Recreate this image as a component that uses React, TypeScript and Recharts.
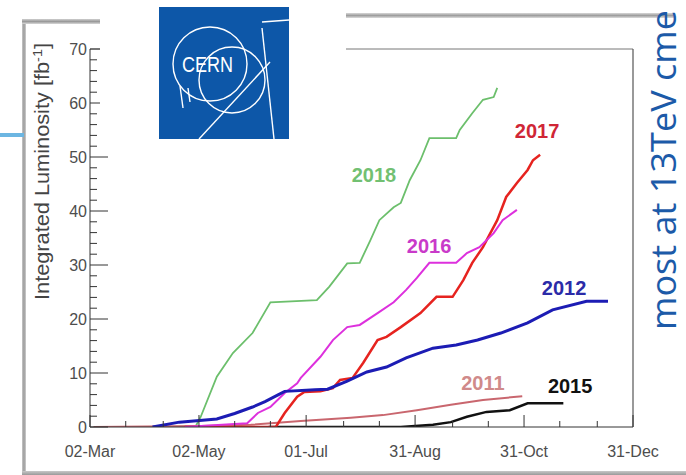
import React from 'react';
import { LineChart, Line, XAxis, YAxis, ReferenceDot } from 'recharts';

// x = days since 02-Mar, y = integrated luminosity [fb^-1]
const tickDays = [0, 61, 121, 182, 243, 304];
const tickLabels = ['02-Mar', '02-May', '01-Jul', '31-Aug', '31-Oct', '31-Dec'];
const minorDays = [20, 41, 81, 101, 142, 162, 203, 223, 263, 284];
const yTicks = [0, 2, 4, 6, 8, 10, 12, 14, 16, 18, 20, 22, 24, 26, 28, 30, 32, 34, 36, 38, 40, 42, 44, 46, 48, 50, 52, 54, 56, 58, 60, 62, 64, 66, 68, 70];

const days2011 = [2, 62, 90, 118, 146, 164, 183, 202, 220, 242];
const lumi2011 = [0, 0.2, 0.4, 1.1, 1.7, 2.2, 3.1, 4.1, 5.0, 5.7];

const days2012 = [35, 50, 71, 81, 91, 98, 105, 109, 126, 133, 144, 155, 166, 177, 192, 205, 217, 230, 245, 259, 278, 290];
const lumi2012 = [0, 0.9, 1.5, 2.5, 3.7, 4.7, 5.9, 6.6, 6.9, 7.0, 8.5, 10.2, 11.1, 12.8, 14.6, 15.2, 16.1, 17.4, 19.3, 21.7, 23.3, 23.3];

const days2015 = [100, 174, 192, 202, 211, 222, 235, 245, 265];
const lumi2015 = [0, 0, 0.4, 0.9, 1.9, 2.8, 3.1, 4.4, 4.4];

const days2016 = [53, 88, 94, 101, 105, 109, 116, 118, 129, 136, 144, 151, 161, 170, 177, 183, 190, 205, 211, 218, 226, 231, 239];
const lumi2016 = [0, 0.7, 2.6, 3.7, 5.0, 6.3, 8.1, 9.1, 13.0, 16.1, 18.5, 18.9, 21.1, 23.1, 25.4, 27.6, 30.4, 30.4, 32.2, 33.3, 35.9, 38.3, 40.2];

const days2017 = [53, 104, 109, 116, 120, 129, 136, 140, 147, 153, 161, 166, 174, 185, 194, 203, 209, 214, 220, 228, 233, 239, 245, 248, 252];
const lumi2017 = [0, 0, 2.6, 5.6, 6.5, 6.6, 7.2, 8.7, 9.1, 11.9, 16.1, 16.7, 18.5, 21.1, 24.1, 24.1, 27.2, 30.4, 33.3, 38.3, 42.6, 45.2, 47.6, 49.4, 50.4];

const days2018 = [52, 59, 62, 71, 80, 91, 101, 127, 134, 144, 151, 157, 162, 170, 174, 179, 185, 190, 205, 207, 214, 220, 226, 228];
const lumi2018 = [0, 0, 1.9, 9.3, 13.7, 17.4, 23.1, 23.5, 26.0, 30.3, 30.4, 34.6, 38.3, 40.7, 41.5, 45.7, 49.4, 53.5, 53.5, 55.0, 58.1, 60.6, 61.1, 62.8];

const yearNames = ['2011', '2012', '2015', '2016', '2017', '2018'];
const yearColors = ['#c9666e', '#1c1cb4', '#111111', '#dd30dd', '#e6231f', '#6cbf6c'];
const labelColors = ['#d08a8a', '#2b2ba8', '#111111', '#c93ac9', '#d02636', '#72c072'];
const labelDays = [220, 265.4, 268.8, 189.8, 250.3, 159];
const labelLumi = [8.2, 25.8, 7.7, 33.6, 54.9, 46.7];

const toPoints = (days: number[], lumi: number[]) => days.map((d, i) => ({ d, v: lumi[i] }));

const series = [
  { name: '2018', data: toPoints(days2018, lumi2018), color: yearColors[5], w: 1.8 },
  { name: '2011', data: toPoints(days2011, lumi2011), color: yearColors[0], w: 2 },
  { name: '2015', data: toPoints(days2015, lumi2015), color: yearColors[2], w: 2.5 },
  { name: '2017', data: toPoints(days2017, lumi2017), color: yearColors[4], w: 2.5 },
  { name: '2016', data: toPoints(days2016, lumi2016), color: yearColors[3], w: 2 },
  { name: '2012', data: toPoints(days2012, lumi2012), color: yearColors[1], w: 3 },
];

const allXTicks = [...tickDays, ...minorDays].sort((a, b) => a - b);

const FONT = 'Liberation Sans, Arial, Helvetica, sans-serif';

const XTick = (props: any) => {
  const { x, y, payload } = props;
  const idx = tickDays.indexOf(payload.value);
  const major = idx >= 0;
  return (
    <g>
      <line x1={x} y1={y} x2={x} y2={y - (major ? 12 : 6)} stroke="#333" strokeWidth={1} />
      {major && (
        <text x={x} y={y + 30} textAnchor="middle" fontSize={16} fill="#4d4d4d" fontFamily={FONT}>
          {tickLabels[idx]}
        </text>
      )}
    </g>
  );
};

const YTick = (props: any) => {
  const { x, y, payload } = props;
  const major = payload.value % 10 === 0;
  return (
    <g>
      <line x1={x} y1={y} x2={x + (major ? 18 : 7)} y2={y} stroke="#333" strokeWidth={1} />
      {major && (
        <text x={x - 3} y={y + 6} textAnchor="end" fontSize={16} fill="#4d4d4d" fontFamily={FONT}>
          {payload.value}
        </text>
      )}
    </g>
  );
};

export default function App() {
  return (
    <div style={{ position: 'absolute', left: 0, top: 0, width: 686, height: 475, background: '#fff', overflow: 'hidden' }}>
      {/* slide panel borders */}
      <div style={{ position: 'absolute', left: 22, top: 19, width: 4, height: 456, background: 'linear-gradient(to right, #c8c8c8, #9a9a9a, #d0d0d0)' }} />
      <div style={{ position: 'absolute', left: 22, top: 19, width: 80, height: 5, background: 'linear-gradient(to bottom, #cfcfcf, #9a9a9a, #d8d8d8)' }} />
      <div style={{ position: 'absolute', left: 346, top: 13, width: 328, height: 5, background: 'linear-gradient(to bottom, #d8d8d8, #9e9e9e, #dcdcdc)' }} />
      <div style={{ position: 'absolute', left: 22, top: 471, width: 664, height: 4, background: 'linear-gradient(to bottom, #c8c8c8, #9a9a9a)' }} />
      <div style={{ position: 'absolute', left: 0, top: 133, width: 24, height: 4, background: '#6cb6e2' }} />

      <div style={{ position: 'absolute', left: 0, top: 0 }}>
        <LineChart width={686} height={475} margin={{ top: 48, right: 52, bottom: 0, left: 0 }}>
          <XAxis
            xAxisId="b"
            type="number"
            dataKey="d"
            domain={[0, 304]}
            ticks={allXTicks}
            interval={0}
            tick={<XTick />}
            tickSize={0}
            tickMargin={0}
            tickLine={false}
            height={48}
            axisLine={{ stroke: '#333', strokeWidth: 1 }}
            allowDataOverflow
          />
          <XAxis xAxisId="t" orientation="top" type="number" domain={[0, 304]} tick={false} tickLine={false} height={1} axisLine={{ stroke: '#777', strokeWidth: 1 }} />
          <YAxis
            yAxisId="l"
            type="number"
            domain={[0, 70]}
            ticks={yTicks}
            interval={0}
            tick={<YTick />}
            tickSize={0}
            tickMargin={0}
            tickLine={false}
            width={90}
            axisLine={{ stroke: '#333', strokeWidth: 1 }}
            allowDataOverflow
          />
          <YAxis yAxisId="r" orientation="right" type="number" domain={[0, 70]} tick={false} tickLine={false} width={1} axisLine={{ stroke: '#555', strokeWidth: 1.2 }} />
          {series.map((s) => (
            <Line
              key={s.name}
              xAxisId="b"
              yAxisId="l"
              data={s.data}
              dataKey="v"
              type="linear"
              stroke={s.color}
              strokeWidth={s.w}
              dot={false}
              isAnimationActive={false}
            />
          ))}
          {yearNames.map((n, i) => (
            <ReferenceDot
              key={n}
              xAxisId="b"
              yAxisId="l"
              x={labelDays[i]}
              y={labelLumi[i]}
              r={0}
              fill="none"
              stroke="none"
              ifOverflow="visible"
              label={{ value: n, position: 'center', fill: labelColors[i], fontSize: 20, fontWeight: 'bold', fontFamily: FONT }}
            />
          ))}
        </LineChart>
      </div>

      {/* y-axis title */}
      <svg style={{ position: 'absolute', left: 0, top: 0 }} width={686} height={475}>
        <text
          transform="translate(49,300) rotate(-90)"
          fontSize={19.5}
          fill="#444"
          fontFamily={FONT}
          textLength={257}
          lengthAdjust="spacingAndGlyphs"
        >
          Integrated Luminosity [fb<tspan dy={-7} fontSize={13}>-1</tspan><tspan dy={7}>]</tspan>
        </text>
      </svg>

      {/* white box with CERN logo */}
      <div style={{ position: 'absolute', left: 100, top: 0, width: 246, height: 145, background: '#fff' }} />
      <svg style={{ position: 'absolute', left: 0, top: 0 }} width={686} height={475}>
        <rect x={159} y={7} width={130} height={132} fill="#0d57a8" />
        <g fill="none" stroke="#ffffff" strokeWidth={1.4}>
          <circle cx={210} cy={64} r={37} />
          <circle cx={232} cy={80} r={33} />
          <line x1={199} y1={139} x2={270} y2={62} />
          <line x1={262} y1={28} x2={274} y2={139} />
          <line x1={262} y1={22} x2={289} y2={20} />
          <line x1={180} y1={86} x2={183} y2={108} />
          <line x1={188} y1={88} x2={190} y2={102} />
        </g>
        <text x={182} y={72} fontSize={22} fill="#ffffff" fontFamily={FONT} textLength={51} lengthAdjust="spacingAndGlyphs">
          CERN
        </text>
      </svg>

      {/* right vertical caption */}
      <svg style={{ position: 'absolute', left: 0, top: 0 }} width={686} height={475}>
        <text
          transform="translate(676,330) rotate(-90)"
          fontSize={34}
          fill="#1c5aa8"
          fontFamily="Open Sans, Noto Sans, sans-serif"
          textLength={320}
          lengthAdjust="spacingAndGlyphs"
        >
          most at 13TeV cme
        </text>
      </svg>
    </div>
  );
}
